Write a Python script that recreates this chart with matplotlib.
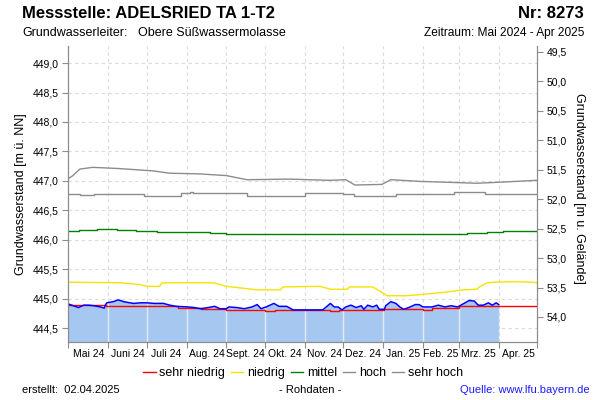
import numpy as np
import pandas as pd
import matplotlib
matplotlib.use('Agg')
import matplotlib.pyplot as plt
from matplotlib.lines import Line2D
from matplotlib.ticker import FuncFormatter, NullFormatter

plt.rcParams['font.family'] = ['Liberation Sans', 'DejaVu Sans']

# Gelaendehoehe (fuer die rechte Achse, m u. Gelaende)
GROUND = 498.69

# Messwerte (Rohdaten)
mess_dates = ['2024-05-01', '2024-05-05', '2024-05-09', '2024-05-13', '2024-05-17', '2024-05-21',
              '2024-05-26', '2024-05-29', '2024-05-30', '2024-05-31', '2024-06-05', '2024-06-09',
              '2024-06-13', '2024-06-18', '2024-06-21', '2024-06-26', '2024-07-01', '2024-07-07',
              '2024-07-14', '2024-07-19', '2024-07-24', '2024-08-02', '2024-08-07', '2024-08-12',
              '2024-08-15', '2024-08-18', '2024-08-23', '2024-08-27', '2024-09-01', '2024-09-03',
              '2024-09-09', '2024-09-15', '2024-09-21', '2024-09-25', '2024-09-28', '2024-10-02',
              '2024-10-08', '2024-10-12', '2024-10-18', '2024-10-23', '2024-10-30', '2024-11-07',
              '2024-11-15', '2024-11-21', '2024-11-24', '2024-11-27', '2024-11-30', '2024-12-03',
              '2024-12-07', '2024-12-11', '2024-12-15', '2024-12-17', '2024-12-20', '2024-12-24',
              '2024-12-27', '2024-12-29', '2025-01-02', '2025-01-03', '2025-01-07', '2025-01-11',
              '2025-01-14', '2025-01-17', '2025-01-21', '2025-01-26', '2025-01-29', '2025-02-01',
              '2025-02-08', '2025-02-13', '2025-02-18', '2025-02-23', '2025-02-28', '2025-03-05',
              '2025-03-09', '2025-03-13', '2025-03-16', '2025-03-20', '2025-03-24', '2025-03-27',
              '2025-03-30', '2025-04-01']
mess_values = [444.91, 444.88, 444.85, 444.89, 444.89, 444.88,
               444.86, 444.84, 444.90, 444.93, 444.95, 444.98,
               444.95, 444.93, 444.92, 444.93, 444.93, 444.92,
               444.92, 444.89, 444.87, 444.86, 444.85, 444.83,
               444.84, 444.85, 444.87, 444.83, 444.83, 444.86,
               444.85, 444.83, 444.86, 444.90, 444.83, 444.86,
               444.92, 444.87, 444.87, 444.81, 444.81, 444.81,
               444.81, 444.92, 444.86, 444.86, 444.81, 444.86,
               444.89, 444.85, 444.88, 444.82, 444.89, 444.86,
               444.89, 444.82, 444.82, 444.88, 444.95, 444.92,
               444.86, 444.82, 444.85, 444.90, 444.90, 444.86,
               444.86, 444.89, 444.86, 444.88, 444.86, 444.92,
               444.97, 444.96, 444.89, 444.89, 444.93, 444.89,
               444.93, 444.90]

# Kennwerte
sehr_hoch_dates = ['2024-05-01', '2024-05-04', '2024-05-10', '2024-05-20', '2024-06-09', '2024-07-06',
                   '2024-07-19', '2024-08-10', '2024-09-01', '2024-09-17', '2024-10-20', '2024-11-20',
                   '2024-12-03', '2024-12-10', '2024-12-31', '2025-01-07', '2025-01-31', '2025-02-15',
                   '2025-03-15', '2025-04-04', '2025-05-01']
sehr_hoch_values = [447.04, 447.08, 447.20, 447.23, 447.21, 447.17,
                    447.13, 447.12, 447.09, 447.02, 447.03, 447.01,
                    447.02, 446.93, 446.94, 447.02, 446.99, 446.98,
                    446.96, 446.98, 447.01]

hoch_dates = ['2024-05-01', '2024-05-10', '2024-05-21', '2024-06-29', '2024-07-28', '2024-08-04',
              '2024-08-06', '2024-09-17', '2024-11-01', '2024-12-01', '2024-12-09', '2025-01-11',
              '2025-02-25', '2025-03-21', '2025-05-01']
hoch_values = [446.78, 446.76, 446.78, 446.75, 446.79, 446.81,
               446.79, 446.75, 446.79, 446.77, 446.74, 446.77,
               446.81, 446.78, 446.78]

mittel_dates = ['2024-05-01', '2024-05-09', '2024-05-23', '2024-06-08', '2024-06-23', '2024-07-09',
                '2024-08-19', '2024-09-01', '2024-09-25', '2025-03-07', '2025-03-23', '2025-04-04',
                '2025-05-01']
mittel_values = [446.15, 446.17, 446.18, 446.17, 446.15, 446.13,
                 446.12, 446.10, 446.09, 446.11, 446.13, 446.15,
                 446.15]

niedrig_dates = ['2024-05-01', '2024-06-10', '2024-06-26', '2024-07-01', '2024-07-11', '2024-07-13',
                 '2024-08-22', '2024-09-01', '2024-09-25', '2024-10-13', '2024-10-15', '2024-11-13',
                 '2024-11-21', '2024-12-04', '2024-12-06', '2024-12-24', '2024-12-30', '2025-01-04',
                 '2025-01-19', '2025-01-30', '2025-02-14', '2025-02-22', '2025-03-04', '2025-03-15',
                 '2025-03-17', '2025-03-23', '2025-03-28', '2025-04-12', '2025-04-28', '2025-05-01']
niedrig_values = [445.28, 445.27, 445.24, 445.21, 445.21, 445.27,
                  445.27, 445.21, 445.15, 445.15, 445.20, 445.21,
                  445.16, 445.16, 445.20, 445.20, 445.12, 445.05,
                  445.05, 445.07, 445.10, 445.12, 445.15, 445.16,
                  445.20, 445.27, 445.28, 445.29, 445.28, 445.27]

sehr_niedrig_dates = ['2024-05-01', '2024-05-30', '2024-07-25', '2024-08-12', '2024-09-01', '2024-10-01',
                      '2024-10-09', '2024-11-21', '2024-11-28', '2025-01-02', '2025-02-01', '2025-02-08',
                      '2025-03-01', '2025-05-01']
sehr_niedrig_values = [444.89, 444.87, 444.85, 444.83, 444.81, 444.79,
                       444.81, 444.79, 444.81, 444.82, 444.81, 444.84,
                       444.87, 444.87]

month_labels = ['Mai 24', 'Juni 24', 'Juli 24', 'Aug. 24', 'Sept. 24', 'Okt. 24',
                'Nov. 24', 'Dez. 24', 'Jan. 25', 'Feb. 25', 'Mrz. 25', 'Apr. 25']

Y_MIN, Y_MAX = 444.27, 449.29
GRAY = '#8c8c8c'

fig = plt.figure(figsize=(6, 4), dpi=100)
ax = fig.add_axes([68.3 / 600, 1 - 341.7 / 400, 469 / 600, 295.7 / 400])

x_mess = pd.to_datetime(mess_dates)
poly = ax.fill_between(x_mess, mess_values, Y_MIN, color='#a6c8f0', lw=0, zorder=1)

month_starts = pd.date_range('2024-05-01', '2025-05-01', freq='MS')
clip_path = poly.get_paths()[0]
for d in month_starts[1:-1]:
    vl = ax.axvline(d, color='#e4eaf2', lw=1.0, zorder=1.5)
    vl.set_clip_path(clip_path, poly.get_transform())

ax.plot(pd.to_datetime(sehr_hoch_dates), sehr_hoch_values, color=GRAY, lw=1.0, zorder=2)
ax.plot(pd.to_datetime(hoch_dates), hoch_values, color=GRAY, lw=1.0, drawstyle='steps-post', zorder=2)
ax.plot(pd.to_datetime(mittel_dates), mittel_values, color='#008000', lw=1.0, drawstyle='steps-post', zorder=2)
ax.plot(pd.to_datetime(niedrig_dates), niedrig_values, color='#f5e400', lw=1.0, zorder=2)
ax.plot(pd.to_datetime(sehr_niedrig_dates), sehr_niedrig_values, color='#ff0000', lw=1.0,
        drawstyle='steps-post', zorder=3)
ax.plot(x_mess, mess_values, color='#0000ff', lw=1.1, zorder=4)

ax.set_xlim(month_starts[0], month_starts[-1])
ax.set_ylim(Y_MIN, Y_MAX)

# x-Achse: Striche am Monatsanfang, Beschriftung in Monatsmitte
ax.set_xticks(month_starts)
ax.xaxis.set_major_formatter(NullFormatter())
mids = month_starts[:-1] + (month_starts[1:] - month_starts[:-1]) / 2
ax.set_xticks(mids, labels=month_labels, minor=True)
ax.tick_params(axis='x', which='minor', length=0, labelsize=7.5, pad=5)
ax.tick_params(axis='x', which='major', length=4, color=GRAY)

ax.set_yticks(np.arange(444.5, 449.01, 0.5))
comma = FuncFormatter(lambda v, p: f'{v:.1f}'.replace('.', ','))
ax.yaxis.set_major_formatter(comma)
ax.tick_params(axis='y', length=4, color=GRAY, labelsize=7.5, pad=3)

ax.set_axisbelow(True)
ax.grid(True, which='major', color='#dadada', lw=0.8, ls=(0, (3, 3)))

ax.spines['top'].set_visible(False)
for s in ['left', 'bottom', 'right']:
    ax.spines[s].set_color(GRAY)

ax2 = ax.twinx()
ax2.set_ylim(GROUND - Y_MIN, GROUND - Y_MAX)
ax2.set_yticks(np.arange(49.5, 54.01, 0.5))
ax2.yaxis.set_major_formatter(comma)
ax2.tick_params(axis='y', length=4, color=GRAY, labelsize=7.5, pad=3)
ax2.spines['top'].set_visible(False)
for s in ['left', 'bottom', 'right']:
    ax2.spines[s].set_color(GRAY)

fig.text(21 / 600, 1 - 194 / 400, 'Grundwasserstand [m ü. NN]', rotation=90,
         ha='center', va='center', fontsize=9)
fig.text(579 / 600, 1 - 188 / 400, 'Grundwasserstand [m u. Gelände]', rotation=270,
         ha='center', va='center', fontsize=9)

# Kopf
fig.text(22 / 600, 1 - 14 / 400, 'Messstelle: ADELSRIED TA 1-T2', fontsize=12,
         fontweight='bold', va='center')
fig.text(584 / 600, 1 - 14 / 400, 'Nr: 8273', fontsize=12, fontweight='bold',
         ha='right', va='center')
fig.text(22 / 600, 1 - 33 / 400, 'Grundwasserleiter:', fontsize=9, va='center')
fig.text(138 / 600, 1 - 33 / 400, 'Obere Süßwassermolasse', fontsize=9, va='center')
fig.text(584 / 600, 1 - 33 / 400, 'Zeitraum: Mai 2024 - Apr 2025', fontsize=8.6,
         ha='right', va='center')

# Legende
handles = [Line2D([], [], color='#ff0000', lw=1.0),
           Line2D([], [], color='#f5e400', lw=1.0),
           Line2D([], [], color='#008000', lw=1.0),
           Line2D([], [], color=GRAY, lw=1.0),
           Line2D([], [], color=GRAY, lw=1.0)]
fig.legend(handles, ['sehr niedrig', 'niedrig', 'mittel', 'hoch', 'sehr hoch'],
           loc='center', bbox_to_anchor=(303 / 600, 1 - 373 / 400), ncol=5, frameon=False,
           fontsize=9, handlelength=1.0, handletextpad=0.3, columnspacing=0.45,
           borderpad=0.2)

# Fusszeile
fig.text(22 / 600, 1 - 390 / 400, 'erstellt:  02.04.2025', fontsize=8, va='center')
fig.text(310 / 600, 1 - 390 / 400, '- Rohdaten -', fontsize=8, ha='center', va='center')
fig.text(590 / 600, 1 - 390 / 400, 'Quelle: www.lfu.bayern.de', fontsize=8, ha='right',
         va='center', color='#1a1aff')

fig.savefig('out.png', dpi=100)
